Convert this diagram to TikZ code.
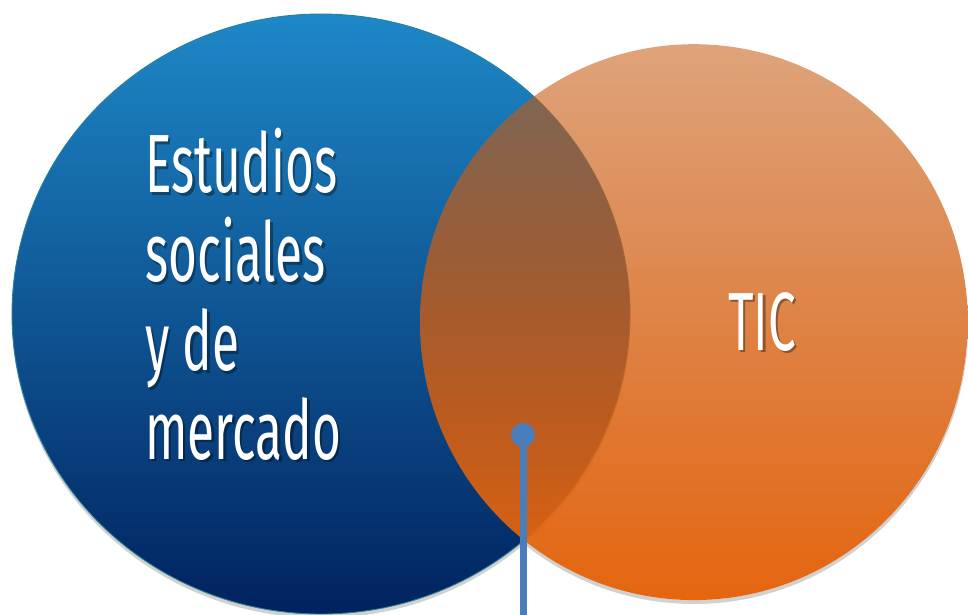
\documentclass[tikz,border=0pt]{standalone}
\usepackage{fontspec}
\setmainfont{Fira Sans}[FakeStretch=0.6]
\usetikzlibrary{fadings}

\definecolor{bluetop}{RGB}{30,136,200}
\definecolor{bluemid}{RGB}{24,98,158}
\definecolor{bluebot}{RGB}{0,34,94}
\definecolor{blueedge}{RGB}{40,130,150}
\definecolor{orangetop}{RGB}{197,88,15}
\definecolor{orangemid}{RGB}{211,88,8}
\definecolor{orangebot}{RGB}{229,101,15}
\definecolor{pinblue}{RGB}{74,126,187}

\tikzfading[name=orangefade,top color=transparent!45,middle color=transparent!25,bottom color=transparent!0]

\tikzset{
  bigtext/.style={font=\fontsize{47}{50.6}\selectfont,text=white,inner sep=0pt,align=left},
  textshadow/.style={bigtext,text=black,opacity=0.35},
  pindot/.style={circle,fill=pinblue,inner sep=0pt,minimum size=0.48cm},
  pinline/.style={draw=pinblue,line width=0.14cm}
}

\begin{document}
\begin{tikzpicture}[x=0.02cm,y=-0.02cm]
\useasboundingbox (0,0) rectangle (968,615);
% soft shadows at the bottom
\fill[black,opacity=0.18] (321,318) ellipse [x radius=309,y radius=300];
\begin{scope}
\clip (420,322) rectangle (970,615);
\fill[black,opacity=0.18,even odd rule] (694,326) ellipse [x radius=274,y radius=278] (694,322) ellipse [x radius=274,y radius=278];
\end{scope}
% circles
\shade[top color=bluetop,middle color=bluemid,bottom color=bluebot,draw=blueedge,line width=0.5pt] (321,314) ellipse [x radius=309,y radius=300];
\shade[top color=orangetop,middle color=orangemid,bottom color=orangebot,path fading=orangefade] (694,322) ellipse [x radius=274,y radius=278];
% labels
\node[textshadow,anchor=north west] at (147.5,130.5) {Estudios\\sociales\\y de\\mercado};
\node[bigtext,anchor=north west] (social) at (145,128) {Estudios\\sociales\\y de\\mercado};
\node[textshadow] at (764.5,324.5) {TIC};
\node[bigtext] (tic) at (762,322) {TIC};
% pin
\node[pindot] (pin) at (523,435) {};
\coordinate (pinend) at (523,615);
\draw[pinline] (pin.center) -- (pinend);
\end{tikzpicture}
\end{document}
